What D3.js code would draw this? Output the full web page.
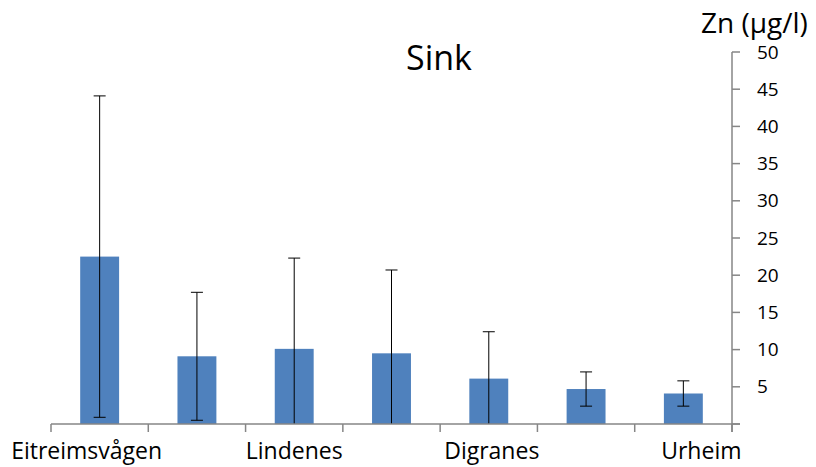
<!DOCTYPE html>
<html>
<head>
<meta charset="utf-8">
<script src="https://cdn.jsdelivr.net/npm/d3@7"></script>
<style>
  body { margin: 0; background: #fff; }
  text { font-family: "Open Sans", sans-serif; fill: #000; }
</style>
</head>
<body>
<div id="chart"></div>
<script>
// stations, only every other one gets a label in the original
var stations = ["Eitreimsvågen", "", "Lindenes", "", "Digranes", "", "Urheim"];
var zinc = [22.5, 9.1, 10.1, 9.5, 6.1, 4.7, 4.1];
var zincErr = [21.6, 8.6, 12.2, 11.2, 6.3, 2.3, 1.7];
var yTicks = [5, 10, 15, 20, 25, 30, 35, 40, 45, 50];

var width = 816, height = 467;
var plotLeft = 51, plotRight = 732, plotTop = 52, plotBottom = 424;

var svg = d3.select("#chart")
  .append("svg")
  .attr("width", width)
  .attr("height", height);

var x = d3.scaleBand()
  .domain(d3.range(zinc.length))
  .range([plotLeft, plotRight])
  .paddingInner(0.6)
  .paddingOuter(0.3);

var y = d3.scaleLinear()
  .domain([0, 50])
  .range([plotBottom, plotTop]);

// bars
svg.selectAll(".bar")
  .data(zinc).enter().append("rect")
    .attr("class", "bar")
    .attr("x", function(d, i) { return x(i); })
    .attr("width", x.bandwidth())
    .attr("y", function(d) { return y(d); })
    .attr("height", function(d) { return y(0) - y(d); })
    .attr("fill", "#4f81bd");

// error bars (lower end cut at the axis like excel does)
var capW = 6;
zinc.forEach(function(d, i) {
  var cx = x(i) + x.bandwidth() / 2;
  var hi = d + zincErr[i], lo = d - zincErr[i];
  var g = svg.append("g").attr("stroke", "#000").attr("stroke-width", 1);
  g.append("line")
    .attr("x1", cx).attr("x2", cx)
    .attr("y1", y(hi)).attr("y2", lo > 0 ? y(lo) : y(0));
  g.append("line")
    .attr("x1", cx - capW).attr("x2", cx + capW)
    .attr("y1", y(hi)).attr("y2", y(hi));
  if (lo > 0) {
    g.append("line")
      .attr("x1", cx - capW).attr("x2", cx + capW)
      .attr("y1", y(lo)).attr("y2", y(lo));
  }
});

var axisCol = "#868686";

// x axis line + ticks between categories
svg.append("line")
  .attr("x1", plotLeft).attr("x2", plotRight + 8)
  .attr("y1", y(0)).attr("y2", y(0))
  .attr("stroke", axisCol).attr("stroke-width", 1.5);

var step = x.step();
d3.range(zinc.length + 1).forEach(function(k) {
  var tx = plotLeft + k * step;
  svg.append("line")
    .attr("x1", tx).attr("x2", tx)
    .attr("y1", y(0)).attr("y2", y(0) + 8)
    .attr("stroke", axisCol).attr("stroke-width", 1.5);
});

// category labels
var labelShift = [-13, 0, 0, 0, 3, 0, 18];
svg.selectAll(".xlab")
  .data(stations).enter().append("text")
    .attr("class", "xlab")
    .attr("x", function(d, i) { return x(i) + x.bandwidth() / 2 + labelShift[i]; })
    .attr("y", 459)
    .attr("text-anchor", "middle")
    .style("font-size", "23px")
    .text(function(d) { return d; });

// y axis on the right
svg.append("line")
  .attr("x1", plotRight).attr("x2", plotRight)
  .attr("y1", y(50)).attr("y2", y(0) + 8)
  .attr("stroke", axisCol).attr("stroke-width", 1.5);

svg.selectAll(".ytick")
  .data([0].concat(yTicks)).enter().append("line")
    .attr("class", "ytick")
    .attr("x1", plotRight).attr("x2", plotRight + 8)
    .attr("y1", function(d) { return y(d); })
    .attr("y2", function(d) { return y(d); })
    .attr("stroke", axisCol).attr("stroke-width", 1.5);

svg.selectAll(".ylab")
  .data(yTicks).enter().append("text")
    .attr("class", "ylab")
    .attr("x", 757)
    .attr("y", function(d) { return y(d); })
    .attr("dy", "0.35em")
    .style("font-size", "19px")
    .text(function(d) { return d; });

svg.append("text")
  .attr("x", 701)
  .attr("y", 33)
  .style("font-size", "28px")
  .text("Zn (µg/l)");

svg.append("text")
  .attr("x", 439)
  .attr("y", 70)
  .attr("text-anchor", "middle")
  .style("font-size", "34px")
  .text("Sink");
</script>
</body>
</html>
